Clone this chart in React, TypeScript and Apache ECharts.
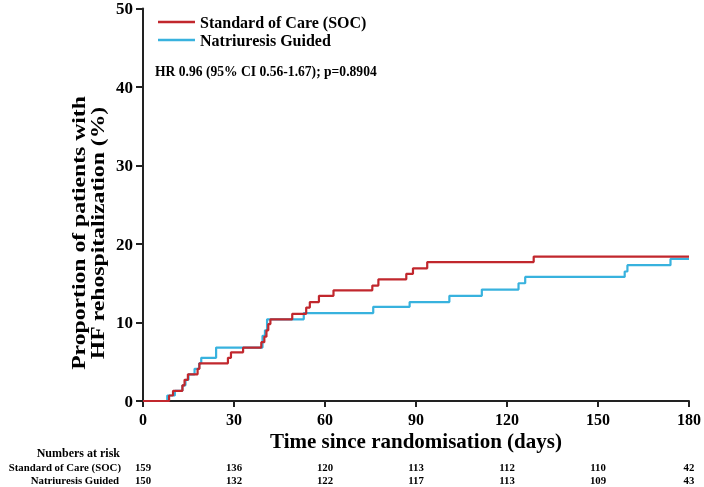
import React, { useEffect, useRef } from "react";
import * as echarts from "echarts";

const seriesNames = ["Standard of Care (SOC)", "Natriuresis Guided"];
const colors = ["#C1272D", "#38B2DE"];

// Standard of Care (SOC) – cumulative % with HF rehospitalization
const socDays = [0, 8.6, 9.9, 13, 13.7, 14.8, 18, 18.6, 28, 29, 33, 39, 40, 40.7, 41.3, 42, 49.2, 53.8, 55, 58, 62.8, 75.6, 77.6, 86.8, 89, 93.7, 128.8, 180];
const socPct = [0, 0.7, 1.3, 2.0, 2.7, 3.4, 4.1, 4.8, 5.5, 6.2, 6.8, 7.5, 8.2, 9.0, 9.8, 10.4, 11.1, 11.9, 12.6, 13.4, 14.1, 14.7, 15.5, 16.2, 16.9, 17.7, 18.4, 18.4];

// Natriuresis Guided
const ngDays = [0, 8, 10.5, 13, 14, 15, 17, 18.5, 19.2, 24.1, 39.4, 40.2, 40.9, 53, 75.9, 87.9, 101, 111.7, 123.8, 126, 158.8, 159.7, 173.9, 180];
const ngPct = [0, 0.7, 1.3, 2.0, 2.7, 3.4, 4.1, 4.8, 5.5, 6.8, 8.3, 9.0, 10.4, 11.2, 12.0, 12.6, 13.4, 14.2, 15.0, 15.8, 16.5, 17.3, 18.1, 18.1];

// Numbers at risk
const riskDays = [0, 30, 60, 90, 120, 150, 180];
const riskSOC = [159, 136, 120, 113, 112, 110, 42];
const riskNG = [150, 132, 122, 117, 113, 109, 43];

const hrText = "HR 0.96 (95% CI 0.56-1.67); p=0.8904";
const xTitle = "Time since randomisation (days)";
const yTitle = "Proportion of patients with\nHF rehospitalization (%)";
const riskTitle = "Numbers at risk";

const FONT = "'Liberation Serif', 'Times New Roman', serif";

export default function App() {
  const ref = useRef<HTMLDivElement>(null);
  useEffect(() => {
    if (!ref.current) return;
    const chart = echarts.init(ref.current, undefined, { renderer: "svg" });
    const axisCommon = {
      axisLine: { show: true, lineStyle: { color: "#222", width: 2 } },
      axisTick: { show: true, inside: false, length: 6, lineStyle: { color: "#222", width: 2 } },
      splitLine: { show: false },
    };
    chart.setOption({
      animation: false,
      grid: { left: 143, right: 11, top: 6, bottom: 86, containLabel: false },
      legend: {
        orient: "vertical",
        left: 153,
        top: 9,
        icon: "rect",
        itemWidth: 37,
        itemHeight: 2.5,
        itemGap: 2,
        data: seriesNames,
        textStyle: { fontFamily: FONT, fontWeight: "bold", fontSize: 16, color: "#000" },
      },
      xAxis: {
        type: "value",
        min: 0,
        max: 180,
        interval: 30,
        ...axisCommon,
        axisLabel: { margin: 10, fontFamily: FONT, fontWeight: "bold", fontSize: 16, color: "#000" },
        name: xTitle,
        nameLocation: "middle",
        nameGap: 29,
        nameMoveOverlap: false,
        nameTextStyle: { fontFamily: FONT, fontWeight: "bold", fontSize: 21, color: "#000" },
      },
      yAxis: {
        type: "value",
        min: 0,
        max: 50,
        interval: 10,
        ...axisCommon,
        axisTick: { show: true, inside: false, length: 7, lineStyle: { color: "#222", width: 2 } },
        axisLabel: { margin: 10, fontFamily: FONT, fontWeight: "bold", fontSize: 17, color: "#000" },
      },
      series: [
        {
          name: seriesNames[1],
          type: "line",
          step: "end",
          symbol: "none",
          color: colors[1],
          lineStyle: { width: 2.2, color: colors[1] },
          data: ngDays.map((d, i) => [d, ngPct[i]]),
        },
        {
          name: seriesNames[0],
          type: "line",
          step: "end",
          symbol: "none",
          color: colors[0],
          lineStyle: { width: 2.2, color: colors[0] },
          data: socDays.map((d, i) => [d, socPct[i]]),
        },
      ],
    });

    const txt = (text: string, x: number, y: number, size: number, align = "center", extra: any = {}) => ({
      type: "text",
      x,
      y,
      ...extra,
      style: {
        text,
        fill: "#000",
        font: `bold ${size}px ${FONT}`,
        align,
        verticalAlign: "middle",
      },
    });

    const rowY1 = 467;
    const rowY2 = 480;
    const rowSize = 10.8;
    const graphics: any[] = [
      txt(hrText, 155, 71, 13.6, "left", { scaleY: 1.1 }),
      txt(yTitle, 88, 233, 18.5, "center", { rotation: Math.PI / 2, scaleX: 1.28 }),
      txt(riskTitle, 120, 453, 12, "right", { scaleY: 1.1 }),
      txt(seriesNames[0], 121, rowY1, rowSize, "right"),
      txt(seriesNames[1], 119, rowY2, rowSize, "right"),
    ];
    riskDays.forEach((d, i) => {
      const px = chart.convertToPixel({ xAxisIndex: 0 }, d) as number;
      graphics.push(txt(String(riskSOC[i]), px, rowY1, rowSize, "center"));
      graphics.push(txt(String(riskNG[i]), px, rowY2, rowSize, "center"));
    });
    chart.setOption({ graphic: graphics });

    return () => chart.dispose();
  }, []);
  return <div ref={ref} style={{ position: "fixed", left: 0, top: 0, width: 704, height: 487 }} />;
}
